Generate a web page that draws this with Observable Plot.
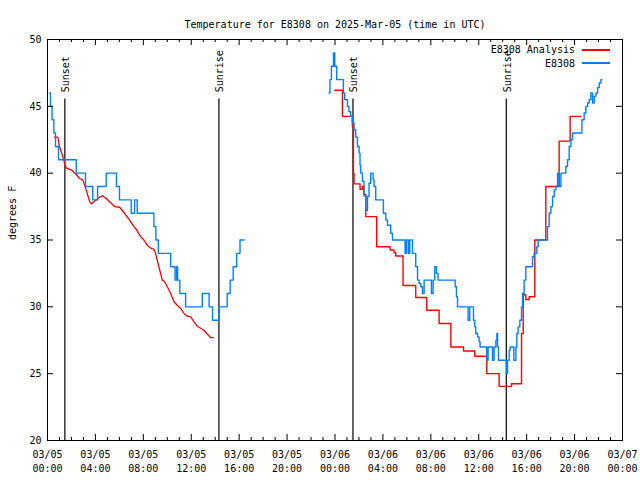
<!DOCTYPE html>
<html>
<head>
<meta charset="utf-8">
<script src="https://cdn.jsdelivr.net/npm/d3@7"></script>
<script src="https://cdn.jsdelivr.net/npm/@observablehq/plot@0.6"></script>
<style>
  body { margin: 0; background: #fff; }
  #chart { position: relative; width: 640px; height: 480px; font-family: "DejaVu Sans Mono", monospace; font-size: 10px; }
  #legend { position: absolute; top: 43px; right: 30px; }
  #legend .row { display: flex; align-items: center; justify-content: flex-end; height: 13.5px; }
</style>
</head>
<body>
<div id="chart"></div>
<script>
// ---- data (hours since 2025-03-05 00:00 UTC, °F) ----
const startUTC = Date.UTC(2025, 2, 5);
const titleText = "Temperature for E8308 on 2025-Mar-05 (time in UTC)";
const yLabelText = "degrees F";
const seriesNames = ["E8308 Analysis", "E8308"];
const seriesColors = ["#ff0000", "#0080ff"];

const obsPart1 = [[0.17,46],[0.25,45],[0.38,44],[0.53,43],[0.67,42],[0.92,41],[2.40,40],[3.17,39],[3.78,38],[4.18,39],[4.90,40],[5.76,39],[6.01,38],[6.99,37],[7.27,38],[7.49,37],[8.88,36],[9.05,35],[9.25,34],[10.28,33],[10.65,32],[10.78,33],[10.86,32],[11.05,31],[11.53,30],[12.92,31],[13.49,30],[13.78,29],[14.31,30],[15.00,31],[15.25,32],[15.50,33],[15.79,34],[16.07,35],[16.42,35]];

const obsPart2 = [[23.50,46],[23.58,47],[23.70,48],[23.87,49],[23.98,48],[24.14,47],[24.70,46],[24.81,45.5],[25.04,45],[25.17,44.6],[25.31,44.25],[25.45,43.75],[25.59,43.25],[25.73,42.7],[25.87,42],[26.01,41.5],[26.09,40.6],[26.15,40],[26.29,39.4],[26.42,38.3],[26.57,37.2],[26.71,38.25],[26.84,39.25],[26.98,40],[27.18,39.5],[27.26,39],[27.40,38],[28.04,37],[28.24,36.5],[28.38,36.1],[28.65,35.5],[28.80,35],[29.85,34],[29.97,35],[30.13,34],[30.24,35],[30.47,34],[30.74,33],[30.89,32],[31.02,31.75],[31.16,31.5],[31.30,31],[31.44,32],[32.05,31],[32.19,32],[32.33,33],[32.47,32.5],[32.60,32],[34.03,31.5],[34.14,30.75],[34.23,30],[35.11,29],[35.25,30],[35.56,29],[35.67,28.5],[35.75,28],[35.90,27.75],[36.03,27.4],[36.11,27],[36.67,26],[36.78,27],[37.15,26],[37.28,27],[37.43,27.5],[37.51,28],[37.57,27],[37.65,26],[38.32,25],[38.40,26],[38.54,26.75],[38.62,27],[38.93,26],[39.10,27],[39.18,28],[39.29,28.5],[39.43,29],[39.57,30],[39.66,31],[39.79,32],[39.93,33],[40.49,33.75],[40.62,34],[40.85,34.5],[40.96,35],[41.74,36],[41.88,37],[42.02,37.5],[42.16,38.25],[42.30,38.75],[42.44,39],[42.58,40],[42.71,39],[42.86,40],[43.27,40.5],[43.41,41],[43.55,42],[43.69,42.5],[43.83,43],[44.61,44],[44.80,44.5],[44.94,45],[45.09,45.25],[45.22,45.5],[45.36,46],[45.50,45.25],[45.64,45.75],[45.78,46],[45.92,46.4],[46.06,46.75],[46.20,47],[46.28,47]];

const analysisPart1 = [[0.58,42.7],[0.86,42.7],[1.00,42.0],[1.28,41.25],[1.42,40.75],[1.56,40.4],[1.98,40.25],[2.40,39.9],[2.67,39.6],[2.95,39.5],[3.23,38.75],[3.51,37.9],[3.65,37.7],[3.93,37.9],[4.34,38.2],[4.62,38.3],[4.90,38.1],[5.32,37.75],[5.60,37.5],[6.02,37.45],[6.43,37.0],[6.85,36.5],[7.21,36.0],[7.41,35.8],[7.77,35.25],[8.05,35.0],[8.33,34.6],[8.60,34.4],[8.88,34.3],[9.02,34.0],[9.30,33.0],[9.58,32.0],[9.77,31.9],[10.00,31.5],[10.28,31.0],[10.55,30.4],[10.84,30.1],[11.11,29.9],[11.39,29.5],[11.67,29.3],[11.95,29.25],[12.22,28.9],[12.51,28.55],[12.78,28.4],[13.06,28.25],[13.34,27.95],[13.62,27.7],[13.84,27.7]];

const analysisPart2 = [[23.98,46.2],[24.62,44.25],[25.45,43.5],[25.54,40],[25.59,39.2],[26.09,38.8],[26.29,39.0],[26.42,38.4],[26.57,36.75],[27.48,34.5],[28.60,34.25],[28.93,34.05],[29.07,33.8],[29.68,31.6],[30.74,30.7],[31.66,29.75],[32.69,28.75],[33.67,27.0],[34.73,26.7],[35.67,26.3],[36.67,25.0],[37.70,24.05],[38.74,24.25],[39.57,28],[39.71,30.9],[39.93,30.55],[40.21,30.75],[40.68,35.0],[41.60,39.0],[42.71,42.4],[43.63,44.25],[44.53,44.25]];

const sunEvents = [
  {label: "Sunset", hour: 1.45},
  {label: "Sunrise", hour: 14.31},
  {label: "Sunset", hour: 25.50},
  {label: "Sunrise", hour: 38.30}
];
const sunLineTop = 45.55;
const sunLabelBase = 46.05;

const yTickValues = [20, 25, 30, 35, 40, 45, 50];
const xMajorHours = [0, 4, 8, 12, 16, 20, 24, 28, 32, 36, 40, 44, 48];
const xMinorHours = d3.range(0, 49).filter(h => h % 4 !== 0);

// ---- build ----
const toDate = h => new Date(startUTC + h * 3600e3);
const rows = arr => arr.map(([h, t]) => ({time: toDate(h), temp: t}));

const W = 640, H = 480, mt = 39, mb = 40, ml = 47, mr = 18;
const frameW = W - ml - mr, frameH = H - mt - mb;
const fmt = d3.utcFormat("%m/%d\n%H:%M");
const majorDates = xMajorHours.map(toDate);
const minorDates = xMinorHours.map(toDate);

const chart = Plot.plot({
  width: W, height: H,
  marginTop: mt, marginBottom: mb, marginLeft: ml, marginRight: mr,
  style: {fontFamily: '"DejaVu Sans Mono", monospace', fontSize: "10px", color: "black", background: "white", overflow: "visible"},
  x: {type: "utc", domain: [toDate(0), toDate(48)], axis: null},
  y: {domain: [20, 50], axis: null},
  marks: [
    // sunrise / sunset markers
    Plot.ruleX(sunEvents, {x: d => toDate(d.hour), y1: 20, y2: sunLineTop, stroke: "black", strokeWidth: 1.2}),
    Plot.text(sunEvents, {x: d => toDate(d.hour), y: sunLabelBase, text: "label", rotate: -90, textAnchor: "start", lineAnchor: "middle", dx: 1, fill: "black"}),
    // series
    Plot.line(rows(analysisPart1), {x: "time", y: "temp", stroke: seriesColors[0], strokeWidth: 1.3}),
    Plot.line(rows(analysisPart2), {x: "time", y: "temp", curve: "step-after", stroke: seriesColors[0], strokeWidth: 1.4}),
    Plot.line(rows(obsPart1), {x: "time", y: "temp", curve: "step-after", stroke: seriesColors[1], strokeWidth: 1.4}),
    Plot.line(rows(obsPart2), {x: "time", y: "temp", curve: "step-after", stroke: seriesColors[1], strokeWidth: 1.4}),
    // frame and inward ticks
    Plot.frame({stroke: "black"}),
    Plot.tickX(majorDates, {x: d => d, insetTop: frameH - 6, stroke: "black"}),
    Plot.tickX(majorDates, {x: d => d, insetBottom: frameH - 6, stroke: "black"}),
    Plot.tickX(minorDates, {x: d => d, insetTop: frameH - 3, stroke: "black"}),
    Plot.tickX(minorDates, {x: d => d, insetBottom: frameH - 3, stroke: "black"}),
    Plot.tickY(yTickValues, {y: d => d, insetRight: frameW - 6, stroke: "black"}),
    Plot.tickY(yTickValues, {y: d => d, insetLeft: frameW - 6, stroke: "black"}),
    // tick labels
    Plot.text(majorDates, {x: d => d, frameAnchor: "bottom", lineAnchor: "top", dy: 8, lineHeight: 1.4, text: d => fmt(d), fill: "black"}),
    Plot.text(yTickValues, {y: d => d, frameAnchor: "left", textAnchor: "end", dx: -6, text: d => String(d), fill: "black"}),
    // title and y label
    Plot.text([titleText], {frameAnchor: "top", dy: -19, text: d => d, fill: "black"}),
    Plot.text([yLabelText], {frameAnchor: "left", dx: -35, rotate: -90, text: d => d, fill: "black"})
  ]
});

const host = document.getElementById("chart");
host.appendChild(chart);

const legend = document.createElement("div");
legend.id = "legend";
seriesNames.forEach((name, i) => {
  const row = document.createElement("div");
  row.className = "row";
  const label = document.createElement("span");
  label.textContent = name;
  const sw = document.createElement("div");
  sw.style.width = "28px";
  sw.style.height = "2px";
  sw.style.marginLeft = "7px";
  sw.style.background = seriesColors[i];
  row.appendChild(label);
  row.appendChild(sw);
  legend.appendChild(row);
});
host.appendChild(legend);
</script>
</body>
</html>
